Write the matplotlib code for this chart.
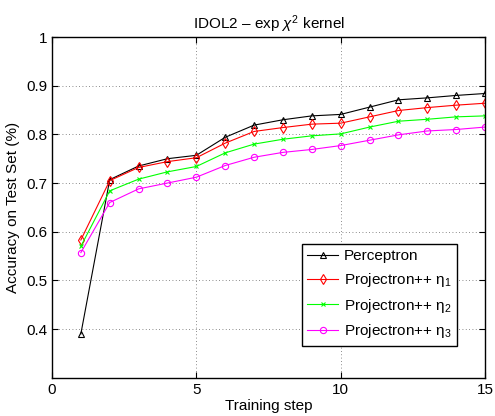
import matplotlib
matplotlib.use("Agg")
import matplotlib.pyplot as plt

plt.rcParams["font.family"] = ["Liberation Sans", "DejaVu Sans"]
plt.rcParams["mathtext.fontset"] = "custom"
plt.rcParams["mathtext.rm"] = "Liberation Sans"
plt.rcParams["mathtext.it"] = "Liberation Sans:italic"

steps = list(range(1, 16))
perceptron = [0.390, 0.707, 0.735, 0.750, 0.757, 0.794, 0.819, 0.830,
              0.838, 0.841, 0.856, 0.871, 0.875, 0.880, 0.884]
proj_eta1 = [0.583, 0.705, 0.732, 0.744, 0.752, 0.782, 0.806, 0.814,
             0.821, 0.823, 0.836, 0.849, 0.855, 0.860, 0.864]
proj_eta2 = [0.570, 0.684, 0.708, 0.723, 0.734, 0.762, 0.780, 0.790,
             0.797, 0.801, 0.815, 0.827, 0.831, 0.836, 0.838]
proj_eta3 = [0.557, 0.660, 0.688, 0.700, 0.712, 0.736, 0.753, 0.763,
             0.769, 0.777, 0.788, 0.799, 0.807, 0.810, 0.815]

x_ticks = [0, 5, 10, 15]
y_ticks = [0.4, 0.5, 0.6, 0.7, 0.8, 0.9, 1.0]
y_tick_labels = ["0.4", "0.5", "0.6", "0.7", "0.8", "0.9", "1"]

fig = plt.figure(figsize=(4.95, 4.16), dpi=100)
ax = fig.add_axes([0.105, 0.092, 0.875, 0.819])

ax.plot(steps, perceptron, color="black", marker="^", mfc="none",
        ms=5, mew=0.8, lw=0.8, label="Perceptron")
ax.plot(steps, proj_eta1, color="red", marker="d", mfc="none",
        ms=5, mew=0.8, lw=0.8, label="Projectron++ η$_1$")
ax.plot(steps, proj_eta2, color="#00ff00", marker="x",
        ms=3.5, mew=0.8, lw=0.8, label="Projectron++ η$_2$")
ax.plot(steps, proj_eta3, color="magenta", marker="o", mfc="none",
        ms=4.5, mew=0.8, lw=0.8, label="Projectron++ η$_3$")

ax.set_xlim(0, 15)
ax.set_ylim(0.3, 1.0)
ax.set_xticks(x_ticks)
ax.set_yticks(y_ticks)
ax.set_yticklabels(y_tick_labels)
ax.tick_params(direction="in", labelsize=11, length=4, top=True, right=True)
ax.grid(True, linestyle=(0, (1, 3)), color="#666666", linewidth=0.6)
for spine in ax.spines.values():
    spine.set_linewidth(1.0)

ax.set_title(r"IDOL2 – exp $\chi^2$ kernel", fontsize=11)
ax.set_xlabel("Training step", fontsize=11, labelpad=2)
ax.set_ylabel("Accuracy on Test Set (%)", fontsize=11)

leg = ax.legend(loc="lower left", bbox_to_anchor=(0.577, 0.094), fontsize=11,
                fancybox=False, framealpha=1, edgecolor="black",
                handlelength=2.0, handletextpad=0.4, borderaxespad=0,
                labelspacing=0.5, borderpad=0.35)
leg.get_frame().set_linewidth(1.0)

fig.savefig("out.png", dpi=100)
